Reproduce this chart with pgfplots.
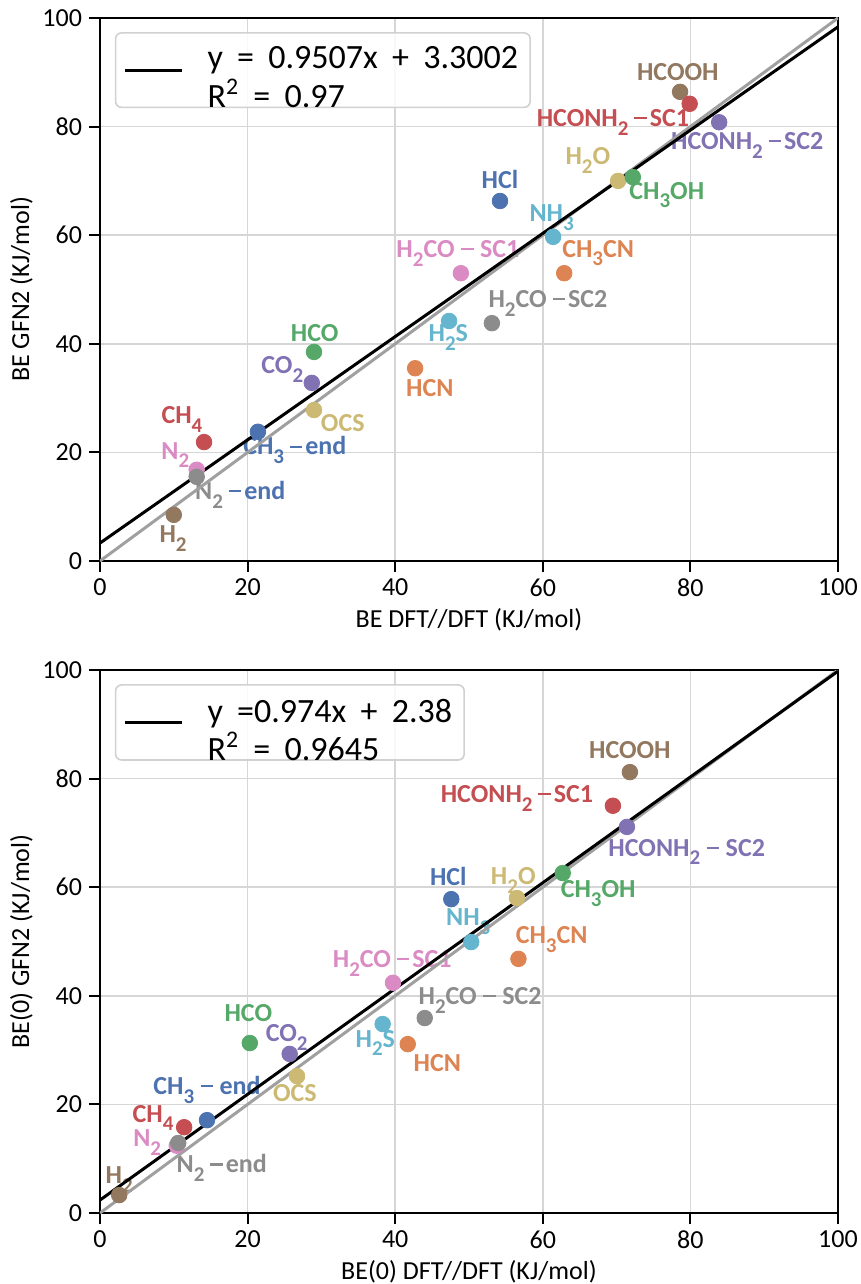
\documentclass[border=0pt]{standalone}
\usepackage{pgfplots}
\pgfplotsset{compat=1.18}
\usepackage{fontspec}
\setmainfont{Carlito}

\definecolor{cbl}{HTML}{4C72B0}
\definecolor{cor}{HTML}{DD8452}
\definecolor{cgr}{HTML}{55A868}
\definecolor{crd}{HTML}{C44E52}
\definecolor{cpu}{HTML}{8172B3}
\definecolor{cbr}{HTML}{937860}
\definecolor{cpk}{HTML}{DA8BC3}
\definecolor{cgy}{HTML}{8C8C8C}
\definecolor{col}{HTML}{CCB974}
\definecolor{ccy}{HTML}{64B5CD}
\definecolor{gridc}{HTML}{D6D6D6}
\definecolor{idline}{HTML}{A0A0A0}

\newcommand{\s}[1]{\raisebox{-0.34em}{\fontsize{10.5}{10.5}\selectfont #1}}
\newcommand{\m}{\rule[0.27em]{0.48em}{0.085em}}
\newcommand{\dash}{\hspace{0.22em}\m\hspace{0.12em}}
\newcommand{\wdash}{\hspace{0.25em}\m\hspace{0.25em}}
\newcommand{\gap}{\hspace{0.42em}}

% top panel: BE
\pgfplotstableread{
x    y    c
78.6 86.4 br
79.9 84.2 rd
83.9 80.8 pu
70.2 70.0 ol
72.2 70.7 gr
54.2 66.3 bl
61.4 59.7 cy
62.9 53.0 or
48.9 53.0 pk
53.1 43.8 gy
47.3 44.2 cy
42.7 35.5 or
29.0 38.5 gr
28.7 32.8 pu
29.0 27.8 ol
21.4 23.8 bl
14.1 21.9 rd
13.1 16.8 pk
13.1 15.5 gy
10.0 8.5  br
}\topdata

% bottom panel: BE(0)
\pgfplotstableread{
x    y    c
71.8 81.2 br
69.5 75.0 rd
71.4 71.1 pu
56.5 58.0 ol
62.7 62.6 gr
47.6 57.8 bl
50.3 49.9 cy
56.7 46.8 or
39.7 42.4 pk
44.0 35.9 gy
38.3 34.8 cy
41.7 31.1 or
20.3 31.3 gr
25.7 29.3 pu
26.7 25.2 ol
14.5 17.1 bl
11.4 15.8 rd
10.4 12.4 pk
10.6 12.9 gy
2.6  3.3  br
}\botdata

\tikzset{lab/.style={font=\bfseries\fontsize{13}{13}\selectfont, inner sep=0pt}}

\pgfplotsset{
  beplot/.style={
    width=369pt, height=271.5pt, scale only axis,
    xmin=0, xmax=100, ymin=0, ymax=100,
    xtick={0,20,...,100}, ytick={0,20,...,100},
    grid=major, grid style={color=gridc, line width=0.8pt},
    axis line style={line width=1.2pt, black},
    tick pos=left, tick align=outside, major tick length=5.5pt,
    tick style={line width=1pt, black},
    ticklabel style={font=\fontsize{13}{13}\selectfont},
    /pgf/number format/assume math mode=true,
    label style={font=\fontsize{13}{13}\selectfont},
    ylabel style={yshift=-2pt},
    xlabel style={yshift=1pt},
    legend style={at={(0.02,0.974)}, anchor=north west,
      draw=black!18, line width=0.8pt, rounded corners=3pt,
      fill=white, fill opacity=0.85, text opacity=1,
      font=\fontsize{17}{15.5}\selectfont,
      inner xsep=4pt, inner ysep=5pt, cells={anchor=west}},
    legend image code/.code={\draw[#1] (0pt,0pt) -- (28.5pt,0pt);},
  },
  dots/.style={only marks, scatter, scatter src=explicit symbolic,
    mark size=3.9pt,
    scatter/classes={
      bl={mark=*,draw=cbl,fill=cbl}, or={mark=*,draw=cor,fill=cor},
      gr={mark=*,draw=cgr,fill=cgr}, rd={mark=*,draw=crd,fill=crd},
      pu={mark=*,draw=cpu,fill=cpu}, br={mark=*,draw=cbr,fill=cbr},
      pk={mark=*,draw=cpk,fill=cpk}, gy={mark=*,draw=cgy,fill=cgy},
      ol={mark=*,draw=col,fill=col}, cy={mark=*,draw=ccy,fill=ccy}}},
}

\begin{document}
\begin{tikzpicture}
\useasboundingbox (-50pt,-361.5pt) rectangle (380.5pt,280.5pt);

\begin{axis}[beplot, at={(0pt,0pt)}, anchor=south west,
  xlabel={BE DFT//DFT (KJ/mol)}, ylabel={BE GFN2 (KJ/mol)}]
\node[lab,text=cbr] at (axis cs:78.3,90.1) {HCOOH};
\node[lab,text=crd] at (axis cs:69.5,80.8) {HCONH\s{2}\dash SC1};
\node[lab,text=cpu] at (axis cs:87.7,76.6) {HCONH\s{2}\dash SC2};
\node[lab,text=col] at (axis cs:66.1,73.8) {H\s{2}O};
\node[lab,text=cgr] at (axis cs:76.8,67.4) {CH\s{3}OH};
\node[lab,text=cbl] at (axis cs:54.2,70.2) {HCl};
\node[lab,text=ccy] at (axis cs:61.2,63.2) {NH\s{3}};
\node[lab,text=cor] at (axis cs:67.5,56.7) {CH\s{3}CN};
\node[lab,text=cpk] at (axis cs:48.5,56.7) {H\s{2}CO\wdash SC1};
\node[lab,text=cgy] at (axis cs:60.7,47.5) {H\s{2}CO\dash SC2};
\node[lab,text=ccy] at (axis cs:47.2,41.1) {H\s{2}S};
\node[lab,text=cgr] at (axis cs:29.1,42.0) {HCO};
\node[lab,text=cor] at (axis cs:44.7,31.9) {HCN};
\node[lab,text=cpu] at (axis cs:24.7,35.2) {CO\s{2}};
\node[lab,text=col] at (axis cs:32.9,25.4) {OCS};
\node[lab,text=cbl] at (axis cs:26.4,20.4) {CH\s{3}\dash end};
\node[lab,text=crd] at (axis cs:11.1,26.0) {CH\s{4}};
\node[lab,text=cpk] at (axis cs:10.2,19.5) {N\s{2}};
\node[lab] at (axis cs:19.0,12.2) {\color{cgy}N\s{2}\color{cbl}\dash end};
\node[lab,text=cbr] at (axis cs:9.9,4.2) {H\s{2}};
\addplot[idline, line width=1.5pt, forget plot] coordinates {(0,0) (100,100)};
\addplot[black, line width=1.5pt] coordinates {(0,3.3002) (100,98.3702)};
\addlegendentry{\begin{tabular}{@{\hspace{10pt}}l@{}}y\gap=\gap0.9507x\gap+\gap3.3002\\[0.5pt]R\textsuperscript{2}\gap=\gap0.97\end{tabular}}
\addplot[dots, forget plot] table[x=x, y=y, meta=c] {\topdata};
\end{axis}

\begin{axis}[beplot, at={(0pt,-54.5pt)}, anchor=north west,
  xlabel={BE(0) DFT//DFT (KJ/mol)}, ylabel={BE(0) GFN2 (KJ/mol)}]
\node[lab,text=cbr] at (axis cs:71.8,85.3) {HCOOH};
\node[lab,text=crd] at (axis cs:56.5,76.4) {HCONH\s{2}\dash SC1};
\node[lab,text=cpu] at (axis cs:79.5,66.5) {HCONH\s{2}\wdash SC2};
\node[lab,text=cbl] at (axis cs:47.2,61.9) {HCl};
\node[lab,text=col] at (axis cs:56.0,61.3) {H\s{2}O};
\node[lab,text=cgr] at (axis cs:67.5,58.9) {CH\s{3}OH};
\node[lab,text=ccy] at (axis cs:49.9,53.6) {NH\s{3}};
\node[lab,text=cor] at (axis cs:61.2,50.3) {CH\s{3}CN};
\node[lab,text=cpk] at (axis cs:39.6,46.0) {H\s{2}CO\dash SC1};
\node[lab,text=cgy] at (axis cs:51.5,39.2) {H\s{2}CO\wdash SC2};
\node[lab,text=cgr] at (axis cs:20.1,36.8) {HCO};
\node[lab,text=cpu] at (axis cs:25.3,32.4) {CO\s{2}};
\node[lab,text=ccy] at (axis cs:37.3,31.3) {H\s{2}S};
\node[lab,text=cor] at (axis cs:45.7,27.6) {HCN};
\node[lab,text=col] at (axis cs:26.4,22.1) {OCS};
\node[lab,text=cbl] at (axis cs:14.5,22.7) {CH\s{3}\wdash end};
\node[lab,text=crd] at (axis cs:7.2,17.5) {CH\s{4}};
\node[lab,text=cpk] at (axis cs:6.4,12.9) {N\s{2}};
\node[lab,text=cgy] at (axis cs:16.5,8.3) {N\s{2}\dash end};
\node[lab,text=cbr] at (axis cs:2.6,6.1) {H\s{2}};
\addplot[idline, line width=1.5pt, forget plot] coordinates {(0,0) (100,100)};
\addplot[black, line width=1.5pt] coordinates {(0,2.38) (100,99.78)};
\addlegendentry{\begin{tabular}{@{\hspace{10pt}}l@{}}y\gap=0.974x\gap+\gap2.38\\[0.5pt]R\textsuperscript{2}\gap=\gap0.9645\end{tabular}}
\addplot[dots, forget plot] table[x=x, y=y, meta=c] {\botdata};
\end{axis}
\end{tikzpicture}
\end{document}
